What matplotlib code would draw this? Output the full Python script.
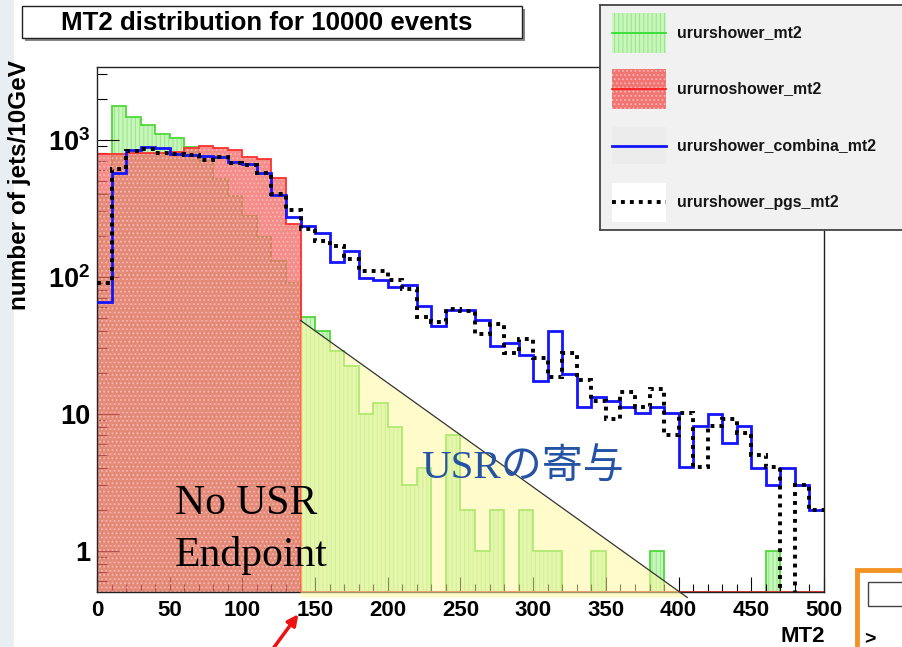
import numpy as np
import matplotlib
matplotlib.use('Agg')
import matplotlib.pyplot as plt
from matplotlib.patches import Rectangle, Polygon, FancyArrowPatch
from matplotlib.ticker import FixedLocator, FixedFormatter, NullFormatter

plt.rcParams['mathtext.fontset'] = 'custom'
plt.rcParams['mathtext.bf'] = 'Liberation Sans:bold'
plt.rcParams['mathtext.rm'] = 'Liberation Sans'
plt.rcParams['hatch.linewidth'] = 0.8

# ---------------- data (10 GeV bins, 0..500) ----------------
bin_edges = np.arange(0, 510, 10)

ururshower_mt2 = [400, 1780, 1466, 1290, 1110, 1025, 880, 700, 520, 390,
                  280, 195, 130, 90, 51, 40, 28.5, 22.5, 10, 12,
                  8, 3, 4, 0, 7, 2, 1, 2, 0, 2,
                  1, 1, 0, 0, 1, 0, 0, 0, 1, 0,
                  0, 0, 0, 0, 0, 0, 1, 0, 0, 0]

ururnoshower_mt2 = [790, 790, 795, 800, 805, 810, 870, 900, 865, 840,
                    755, 720, 525, 243, 0, 0, 0, 0, 0, 0,
                    0, 0, 0, 0, 0, 0, 0, 0, 0, 0,
                    0, 0, 0, 0, 0, 0, 0, 0, 0, 0,
                    0, 0, 0, 0, 0, 0, 0, 0, 0, 0]

ururshower_combina_mt2 = [65, 570, 845, 880, 865, 790, 780, 765, 750, 685,
                          665, 570, 397, 275, 235, 209, 129, 155, 98, 94,
                          84, 87, 61, 44, 57, 57, 48, 31, 33, 27,
                          17.4, 40, 19.5, 11.2, 13.2, 12.3, 11.2, 10.2, 11.2, 10.2,
                          4.1, 8.2, 10, 6.1, 8.2, 4.0, 3.0, 4.0, 3.0, 2.0]

ururshower_pgs_mt2 = [90, 615, 828, 862, 805, 788, 780, 708, 750, 675,
                      650, 570, 405, 305, 222, 184, 168, 135, 111, 111,
                      94, 82, 51, 47, 58, 56, 38, 45, 28, 35,
                      25.5, 18.5, 28, 17.5, 12.3, 9.1, 14.3, 11.2, 15.2, 7.0,
                      10.2, 4.1, 8.2, 9.2, 7.2, 5.0, 4.1, 0, 3.0, 2.0]

legend_labels = ['ururshower_mt2', 'ururnoshower_mt2',
                 'ururshower_combina_mt2', 'ururshower_pgs_mt2']
x_ticks = list(range(0, 501, 50))
y_ticks = [1, 10, 100, 1000]
y_ticklabels = ['1', '10', r'$\mathbf{10^{2}}$', r'$\mathbf{10^{3}}$']

# USR triangle annotation (data coords)
usr_endpoint = 140
usr_triangle = [(140, 48), (406, 0.456), (140, 0.456)]

# ---------------- figure ----------------
W, H = 903, 647
fig = plt.figure(figsize=(W / 100, H / 100), dpi=100)
fig.patch.set_facecolor('white')


def fx(p):
    return p / W


def fy(p):
    return 1 - p / H


# slide-like background on the left
fig.add_artist(Rectangle((0, 0), fx(14), 1, transform=fig.transFigure,
                         facecolor='#e9eef3', edgecolor='none', zorder=0))

ax = fig.add_axes([fx(97), fy(592), fx(824) - fx(97), fy(67) - fy(592)])
YMIN, YMAX = 0.5, 3400
ax.set_yscale('log')
ax.set_xlim(0, 500)
ax.set_ylim(YMIN, YMAX)
ax.set_facecolor('white')

g = np.array(ururshower_mt2, float)
gp = np.where(g > 0, g, YMIN)
ax.stairs(gp, bin_edges, baseline=YMIN, fill=True, facecolor='#c8f6bd',
          edgecolor='none', zorder=1)
ax.stairs(gp, bin_edges, baseline=YMIN, fill=True, facecolor='none',
          edgecolor='#9be88e', hatch='||||', linewidth=0, zorder=1.1)
ax.stairs(gp, bin_edges, baseline=YMIN, fill=False, color='#4fd83a',
          linewidth=1.3, zorder=1.2)

r = np.array(ururnoshower_mt2, float)
rp = np.where(r > 0, r, YMIN)
ax.stairs(rp, bin_edges, baseline=YMIN, fill=True, facecolor='#ef6a66',
          edgecolor='none', alpha=0.76, zorder=2)
ax.stairs(rp, bin_edges, baseline=YMIN, fill=True, facecolor='none',
          edgecolor='#ffb4b0', hatch='....', linewidth=0, zorder=2.1)
ax.stairs(rp, bin_edges, baseline=YMIN, fill=False, color='#ff3030',
          linewidth=1.3, zorder=2.2)

tri = Polygon(usr_triangle, closed=True, facecolor='#fff8a0', alpha=0.55,
              edgecolor='none', zorder=3, clip_on=False)
ax.add_patch(tri)
ax.plot([usr_triangle[0][0], usr_triangle[1][0]],
        [usr_triangle[0][1], usr_triangle[1][1]],
        color='#333333', lw=0.9, zorder=3.1, clip_on=False)

b = np.array(ururshower_combina_mt2, float)
ax.stairs(np.where(b > 0, b, 1e-3), bin_edges, baseline=None,
          color='#1414ff', linewidth=2.0, zorder=4)
k = np.array(ururshower_pgs_mt2, float)
ax.stairs(np.where(k > 0, k, 1e-3), bin_edges, baseline=None,
          color='black', linewidth=2.8, linestyle=(0, (1.0, 1.3)), zorder=5)

# ticks
ax.xaxis.set_major_locator(FixedLocator(x_ticks))
ax.xaxis.set_minor_locator(FixedLocator(np.arange(0, 501, 10)))
ax.yaxis.set_major_locator(FixedLocator(y_ticks))
ax.yaxis.set_major_formatter(FixedFormatter(y_ticklabels))
minor_y = [m * 10.0 ** d for d in range(-1, 4) for m in range(2, 10)]
ax.yaxis.set_minor_locator(FixedLocator([v for v in minor_y if YMIN < v < YMAX]))
ax.yaxis.set_minor_formatter(NullFormatter())
ax.tick_params(axis='both', which='both', direction='in', top=False,
               right=False, colors='black', width=0.8)
ax.tick_params(axis='x', which='major', length=10.5, pad=6)
ax.tick_params(axis='x', which='minor', length=5.5)
ax.tick_params(axis='y', which='major', length=15.5, pad=5)
ax.tick_params(axis='y', which='minor', length=7)
for lab in ax.get_xticklabels():
    lab.set_fontfamily('Liberation Sans')
    lab.set_fontweight('bold')
    lab.set_fontsize(16)
for lab in ax.get_yticklabels():
    lab.set_fontfamily('Liberation Sans')
    lab.set_fontweight('bold')
    lab.set_fontsize(19.5)
for s in ax.spines.values():
    s.set_linewidth(1.0)
    s.set_color('#222222')

# axis titles
fig.text(fx(20), fy(185), 'number of jets/10GeV', rotation=90, ha='center',
         va='center', fontfamily='Liberation Sans', fontweight='bold',
         fontsize=17.5)
fig.text(fx(825), fy(642), 'MT2', ha='right', va='baseline',
         fontfamily='Liberation Sans', fontweight='bold', fontsize=16)

# title box
fig.add_artist(Rectangle((fx(25), fy(41)), fx(522) - fx(22), fy(6) - fy(38),
                         transform=fig.transFigure, facecolor='#888888',
                         edgecolor='none', zorder=5))
fig.add_artist(Rectangle((fx(22), fy(38)), fx(522) - fx(22), fy(6) - fy(38),
                         transform=fig.transFigure, facecolor='white',
                         edgecolor='#222222', linewidth=1.0, zorder=6))
fig.text(fx(267), fy(22.5), 'MT2 distribution for 10000 events', ha='center',
         va='center', fontfamily='Liberation Sans', fontweight='bold',
         fontsize=18.6, zorder=7)

# annotations
fig.text(fx(175), fy(514), 'No USR', fontfamily='Liberation Serif',
         fontsize=30, va='baseline', color='black', zorder=8)
fig.text(fx(175), fy(566), 'Endpoint', fontfamily='Liberation Serif',
         fontsize=30, va='baseline', color='black', zorder=8)
fig.text(fx(421), fy(479), 'USRの寄与',
         fontfamily=['Liberation Serif', 'Noto Sans CJK JP'], fontsize=29.5,
         va='baseline', color='#2452a4', zorder=8)

# red arrow at the endpoint
fig.add_artist(FancyArrowPatch((fx(272), fy(650)), (fx(300), fy(612)),
                               transform=fig.transFigure, arrowstyle='-|>',
                               mutation_scale=16, color='#ee1111', lw=2.5,
                               zorder=9))

# legend (drawn by hand, in pixel coordinates)
lg = fig.add_axes([fx(600), fy(230), fx(930) - fx(600), fy(5) - fy(230)])
lg.set_xlim(600, 930)
lg.set_ylim(230, 5)
lg.set_facecolor('#f1f1f1')
lg.set_xticks([])
lg.set_yticks([])
for s in lg.spines.values():
    s.set_color('#444444')
    s.set_linewidth(1.3)
rows = [33, 89, 146, 202]
# green entry
lg.add_patch(Rectangle((612, 13), 54, 40, facecolor='#c8f6bd', edgecolor='none'))
lg.add_patch(Rectangle((612, 13), 54, 40, facecolor='none', edgecolor='#9be88e',
                       hatch='||||', linewidth=0))
lg.plot([612, 666], [rows[0], rows[0]], color='#33dd33', lw=1.3)
# red entry
lg.add_patch(Rectangle((612, 69), 54, 40, facecolor='#f07572', edgecolor='none'))
lg.add_patch(Rectangle((612, 69), 54, 40, facecolor='none', edgecolor='#ffb4b0',
                       hatch='....', linewidth=0))
lg.plot([612, 666], [rows[1], rows[1]], color='#ff2020', lw=1.3)
# blue entry
lg.add_patch(Rectangle((612, 127), 54, 37, facecolor='#ececec', edgecolor='none'))
lg.plot([612, 666], [rows[2], rows[2]], color='#1414ff', lw=2.0)
# black entry
lg.add_patch(Rectangle((612, 183), 54, 39, facecolor='white', edgecolor='none'))
lg.plot([612, 666], [rows[3], rows[3]], color='black', lw=2.8,
        linestyle=(0, (1.0, 1.3)))
for yy, txt in zip(rows, legend_labels):
    lg.text(677, yy, txt, va='center', ha='left', fontfamily='Liberation Sans',
            fontweight='bold', fontsize=11.4, color='#151515')

# slide element at bottom right
fig.add_artist(Rectangle((fx(857), fy(660)), fx(940) - fx(857), fy(570) - fy(660),
                         transform=fig.transFigure, facecolor='white',
                         edgecolor='#f39326', linewidth=3.5, zorder=9))
fig.add_artist(Rectangle((fx(868), fy(606)), fx(940) - fx(868), fy(582) - fy(606),
                         transform=fig.transFigure, facecolor='white',
                         edgecolor='#444444', linewidth=1.0, zorder=10))
fig.text(fx(864), fy(644), '>', fontfamily='Liberation Sans', fontweight='bold',
         fontsize=14, va='baseline', zorder=10)

fig.savefig('out.png', dpi=100, facecolor=fig.get_facecolor())
